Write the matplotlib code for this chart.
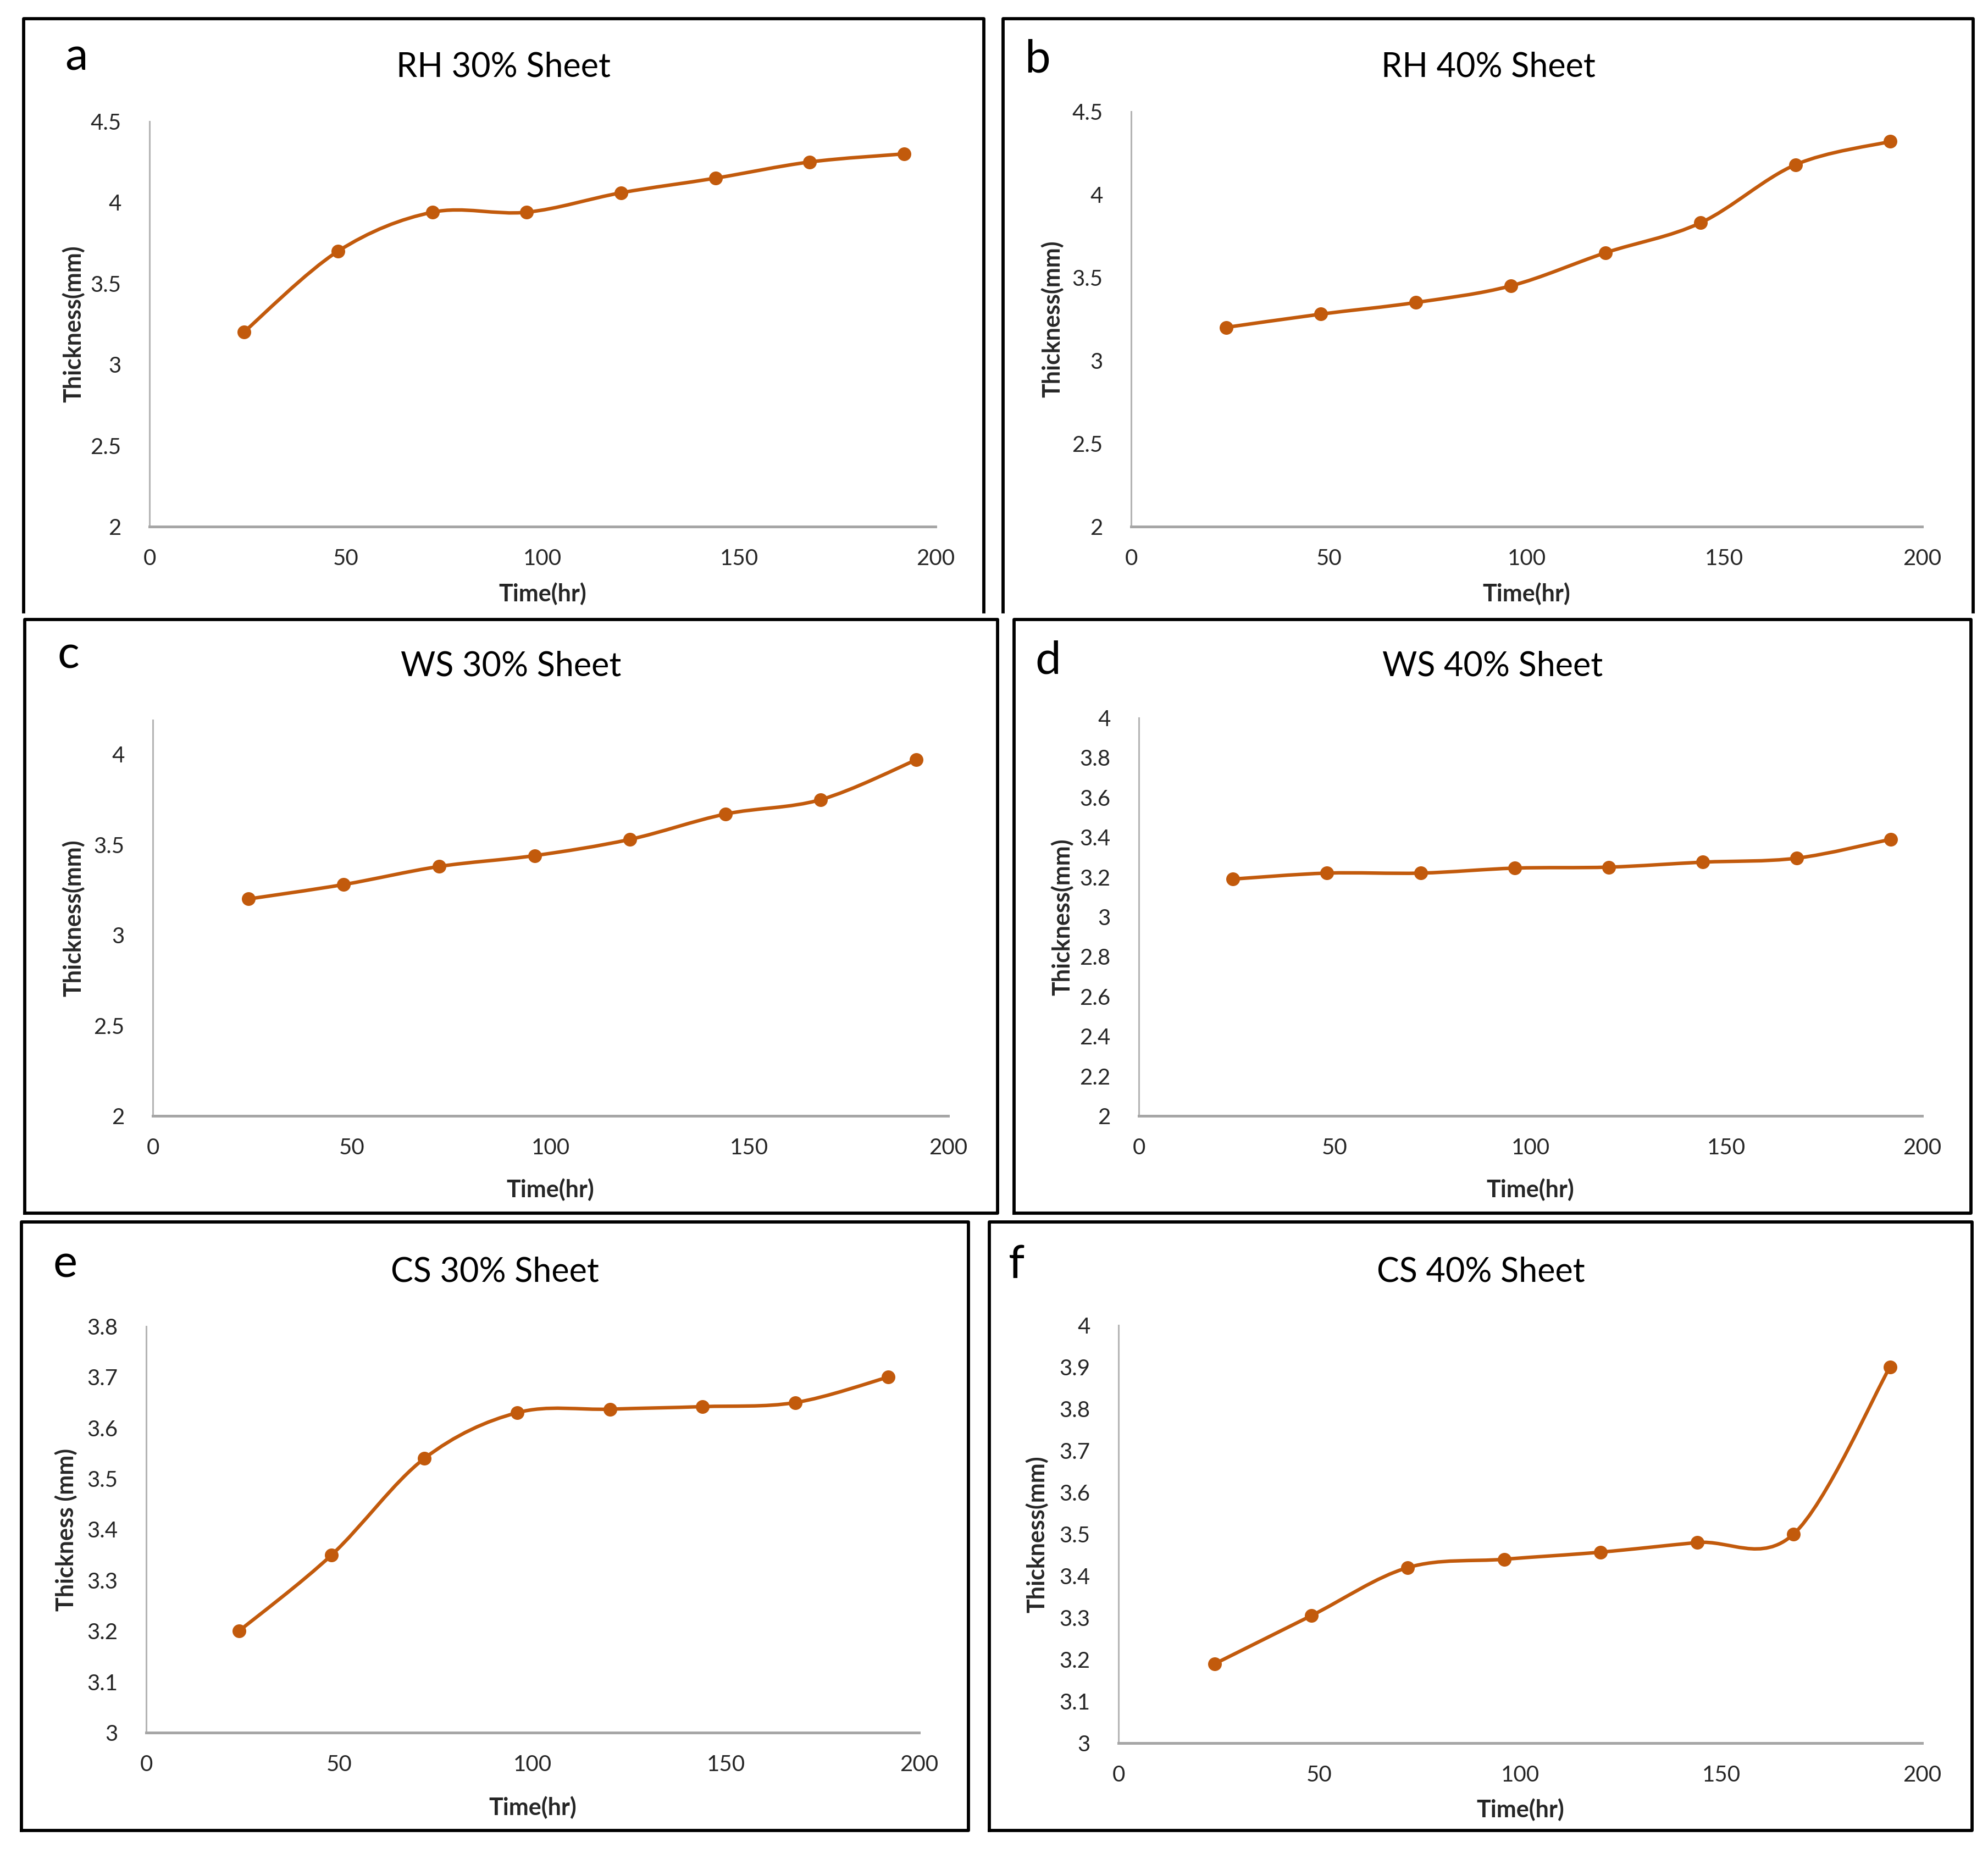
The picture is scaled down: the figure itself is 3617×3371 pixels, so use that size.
import numpy as np
import matplotlib
matplotlib.use("Agg")
import matplotlib.pyplot as plt
from matplotlib.path import Path
from matplotlib.patches import PathPatch
from matplotlib.lines import Line2D

plt.rcParams['font.family'] = ['Lato', 'DejaVu Sans']

# data
time_hr = [24, 48, 72, 96, 120, 144, 168, 192]
rh30 = [3.20, 3.70, 3.94, 3.94, 4.06, 4.15, 4.25, 4.30]
rh40 = [3.20, 3.28, 3.35, 3.45, 3.65, 3.83, 4.18, 4.32]
ws30 = [3.20, 3.28, 3.38, 3.44, 3.53, 3.67, 3.75, 3.97]
ws40 = [3.19, 3.22, 3.22, 3.245, 3.25, 3.275, 3.295, 3.39]
cs30 = [3.20, 3.35, 3.54, 3.63, 3.637, 3.642, 3.65, 3.70]
cs40 = [3.19, 3.305, 3.42, 3.44, 3.457, 3.48, 3.50, 3.90]

letters = ["a", "b", "c", "d", "e", "f"]
titles = ["RH 30% Sheet", "RH 40% Sheet", "WS 30% Sheet",
          "WS 40% Sheet", "CS 30% Sheet", "CS 40% Sheet"]
ylabels = ["Thickness(mm)", "Thickness(mm)", "Thickness(mm)",
           "Thickness(mm)", "Thickness (mm)", "Thickness(mm)"]
xlabel = "Time(hr)"
series = [rh30, rh40, ws30, ws40, cs30, cs40]
ylims = [(2, 4.5), (2, 4.5), (2, 4.19), (2, 4), (3, 3.8), (3, 4)]
ytick_step = [0.5, 0.5, 0.5, 0.2, 0.1, 0.1]
ytick_max = [4.5, 4.5, 4.0, 4.0, 3.8, 4.0]
xticks = [0, 50, 100, 150, 200]

W, H = 3617, 3371

# layout in pixels: frame (x0, y0, x1, y1), axes (left, top, right, bottom)
frames = [(43, 34, 1790, 1113), (1825, 34, 3590, 1113),
          (45, 1127, 1815, 2207), (1845, 1127, 3586, 2207),
          (39, 2223, 1762, 3330), (1800, 2223, 3588, 3330)]
open_bottom = [True, True, False, False, False, False]
axes_px = [(272, 221, 1702, 958), (2058, 203, 3497, 958),
           (278, 1310, 1725, 2030), (2072, 1306, 3497, 2030),
           (266, 2413, 1672, 3152), (2035, 2411, 3497, 3171)]
title_base = [139, 139, 1230, 1230, 2331, 2331]
letter_pos = [(118, 128), (1864, 132), (105, 1216), (1883, 1225),
              (97, 2323), (1835, 2325)]
xlab_off = [122, 122, 134, 134, 136, 121]
ylab_off = [138, 143, 144, 139, 146, 148]

line_color = "#C25A0C"
text_color = "#262626"


def fx(x):
    return x / W


def fy(y):
    return 1 - y / H


def smooth_line(ax, x, y, **kw):
    # Excel-style smoothed line: cubic Bezier segments (Catmull-Rom, 1/6)
    pts = ax.transData.transform(np.column_stack([x, y]))
    n = len(pts)
    verts = [pts[0]]
    codes = [Path.MOVETO]
    for i in range(n - 1):
        p0 = pts[max(i - 1, 0)]
        p1 = pts[i]
        p2 = pts[i + 1]
        p3 = pts[min(i + 2, n - 1)]
        verts += [p1 + (p2 - p0) / 6, p2 - (p3 - p1) / 6, p2]
        codes += [Path.CURVE4] * 3
    verts = ax.transData.inverted().transform(np.array(verts))
    patch = PathPatch(Path(verts, codes), fill=False, transform=ax.transData, **kw)
    ax.add_patch(patch)


fig = plt.figure(figsize=(W / 100, H / 100), dpi=100)
fig.patch.set_facecolor("white")

for i in range(6):
    x0, y0, x1, y1 = frames[i]
    if open_bottom[i]:
        xs = [fx(x0), fx(x0), fx(x1), fx(x1)]
        ys = [fy(y1), fy(y0), fy(y0), fy(y1)]
    else:
        xs = [fx(x0), fx(x0), fx(x1), fx(x1), fx(x0)]
        ys = [fy(y1), fy(y0), fy(y0), fy(y1), fy(y1)]
    fig.add_artist(Line2D(xs, ys, color="black", lw=4.2,
                          solid_joinstyle="round", transform=fig.transFigure))

    l, t, r, b = axes_px[i]
    ax = fig.add_axes([fx(l), fy(b), (r - l) / W, (b - t) / H])
    ax.set_xlim(0, 200)
    ax.set_ylim(*ylims[i])
    ax.set_xticks(xticks)
    yt = np.arange(ylims[i][0], ytick_max[i] + 1e-9, ytick_step[i])
    ax.set_yticks(yt)
    ax.set_yticklabels([f"{v:g}" for v in np.round(yt, 2)])
    ax.tick_params(length=0, labelsize=29, colors=text_color)
    ax.tick_params(axis="x", pad=29)
    ax.tick_params(axis="y", pad=37)
    for s in ["top", "right"]:
        ax.spines[s].set_visible(False)
    ax.spines["left"].set_color("#B4B4B4")
    ax.spines["left"].set_linewidth(2.2)
    ax.spines["bottom"].set_color("#A6A6A6")
    ax.spines["bottom"].set_linewidth(3.6)
    ax.patch.set_alpha(0)

    smooth_line(ax, time_hr, series[i], edgecolor=line_color, lw=4.6,
                capstyle="round", joinstyle="round", zorder=3)
    ax.plot(time_hr, series[i], linestyle="none", marker="o", markersize=17,
            color=line_color, zorder=4, clip_on=False)

    ax.set_xlabel(xlabel, fontsize=31, fontweight="bold", color=text_color)
    ax.xaxis.set_label_coords(0.5, -xlab_off[i] / (b - t))
    ax.xaxis.label.set_va("center")
    ax.set_ylabel(ylabels[i], fontsize=31, fontweight="bold", color=text_color)
    ax.yaxis.set_label_coords(-ylab_off[i] / (r - l), 0.5)
    ax.yaxis.label.set_va("center")

    fig.text(fx((x0 + x1) / 2), fy(title_base[i]), titles[i], fontsize=44,
             ha="center", va="baseline", color="black")
    lx, ly = letter_pos[i]
    fig.text(fx(lx), fy(ly), letters[i], fontsize=60, ha="left",
             va="baseline", color="black")

fig.savefig("out.png", dpi=100, facecolor="white")
